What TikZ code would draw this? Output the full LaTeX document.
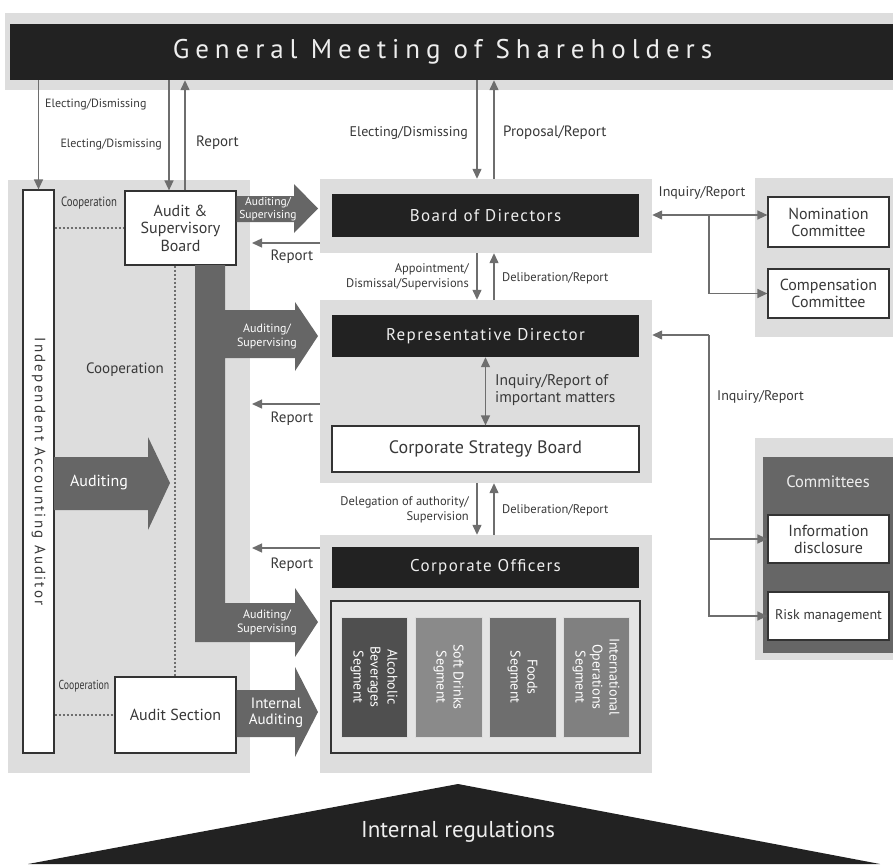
\documentclass[tikz,border=0pt]{standalone}
\usepackage{fontspec}
\usepackage{graphicx}
\setmainfont{PT Sans}
\newfontfamily\titlefont[LetterSpace=22]{PT Sans}
\newfontfamily\vertfont[LetterSpace=15]{PT Sans}
\newfontfamily\boxfont[LetterSpace=8]{PT Sans}
\usetikzlibrary{arrows.meta}
\definecolor{boxblack}{HTML}{222222}
\definecolor{panelgrey}{HTML}{DDDDDD}
\definecolor{arrowgrey}{HTML}{666666}
\definecolor{linegrey}{HTML}{6E6E6E}
\definecolor{textdark}{HTML}{383838}
\definecolor{boxline}{HTML}{333333}
\definecolor{segA}{HTML}{4F4F4F}
\definecolor{segB}{HTML}{8A8A8A}
\definecolor{segC}{HTML}{6E6E6E}
\definecolor{segD}{HTML}{808080}
\definecolor{innerfill}{HTML}{E4E4E4}
\definecolor{titlewhite}{HTML}{EEEEEE}
\begin{document}
\begin{tikzpicture}[x=1pt,y=-1pt,
  panel/.style={fill=panelgrey, draw=none, inner sep=0pt},
  blackbox/.style={fill=boxblack, text=titlewhite, inner sep=0pt, font=\boxfont\fontsize{17}{20}\selectfont},
  whitebox/.style={fill=white, draw=boxline, line width=1.2pt, align=center, inner sep=0pt, text=textdark},
  seg/.style={draw=panelgrey, line width=0.8pt, inner sep=0pt, minimum height=120pt},
  segtext/.style={rotate=-90, text=white, align=center, inner sep=0pt, font=\fontsize{14}{17}\selectfont},
  arr/.style={draw=linegrey, line width=1.3pt, -{Triangle[length=10pt,width=9pt]}},
  darr/.style={draw=linegrey, line width=1.3pt, {Triangle[length=10pt,width=9pt]}-{Triangle[length=10pt,width=9pt]}},
  lbl/.style={text=textdark, inner sep=0pt, font=\fontsize{15}{17}\selectfont},
  slbl/.style={text=textdark, inner sep=0pt, font=\fontsize{12.5}{15.5}\selectfont},
  wlbl/.style={text=white, inner sep=0pt, align=center, font=\fontsize{12}{14}\selectfont},
  coop/.style={draw=linegrey, line width=1.6pt, dash pattern=on 2.5pt off 1.5pt},
  blockarrow/.style={fill=arrowgrey, draw=none}
]
\useasboundingbox (0,0) rectangle (893,864);

% ---------- panels ----------
\node[panel, minimum width=888pt, minimum height=77pt] (gmsg) at (449,51.5) {};
\node[blackbox, minimum width=883pt, minimum height=56pt, font=\titlefont\fontsize{27}{30}\selectfont] (gms) at (451.5,52) {\hspace*{-18pt}General Meeting of Shareholders};

\node[panel, minimum width=242pt, minimum height=593pt] (lp) at (129,476.5) {};
\node[panel, minimum width=332pt, minimum height=74pt] (bodg) at (486,216) {};
\node[panel, minimum width=332pt, minimum height=183pt] (rdg) at (486,391.5) {};
\node[panel, minimum width=332pt, minimum height=238pt] (cog) at (486,654) {};
\node[panel, minimum width=138pt, minimum height=159pt] (ncg) at (824,257.5) {};
\node[panel, minimum width=138pt, minimum height=222pt] (cmg) at (824,549) {};
\node[fill=arrowgrey, inner sep=0pt, minimum width=130pt, minimum height=196pt] (cmd) at (828,555) {};

% ---------- boxes ----------
\node[whitebox, minimum width=31pt, minimum height=563pt] (iaa) at (38.5,471.5) {};
\node[rotate=-90, text=textdark, inner sep=0pt, font=\vertfont\fontsize{15}{17}\selectfont] (iaat) at (iaa.center) {Independent Accounting Auditor};
\node[whitebox, minimum width=111pt, minimum height=74pt, font=\fontsize{16}{17.5}\selectfont] (asb) at (180.5,228) {Audit \&\\Supervisory\\Board};
\node[whitebox, minimum width=121pt, minimum height=76pt, font=\fontsize{16}{18}\selectfont] (as) at (175.5,715) {Audit Section};

\node[blackbox, minimum width=307pt, minimum height=43pt] (bod) at (485.5,215.5) {Board of Directors};
\node[blackbox, minimum width=307pt, minimum height=42pt] (rd) at (485.5,336) {Representative Director};
\node[whitebox, minimum width=307pt, minimum height=46pt, font=\fontsize{18}{21}\selectfont] (csb) at (485.5,449) {Corporate Strategy Board};
\node[blackbox, minimum width=307pt, minimum height=41pt] (co) at (485.5,567.5) {Corporate Officers};
\node[fill=innerfill, draw=boxline, line width=1.2pt, inner sep=0pt, minimum width=309pt, minimum height=152pt] (coin) at (485.5,677) {};
\node[seg, fill=segA, minimum width=66pt] (s1) at (374,677) {};
\node[seg, fill=segB, minimum width=67pt] (s2) at (448.5,677) {};
\node[seg, fill=segC, minimum width=67pt] (s3) at (522.5,677) {};
\node[seg, fill=segD, minimum width=66pt] (s4) at (596,677) {};
\node[segtext] at (s1.center) {Alcoholic\\Beverages\\Segment};
\node[segtext] at (s2.center) {Soft Drinks\\Segment};
\node[segtext] at (s3.center) {Foods\\Segment};
\node[segtext] at (s4.center) {International\\Operations\\Segment};

\node[whitebox, minimum width=121pt, minimum height=50pt, font=\fontsize{16}{17}\selectfont] (nom) at (828.5,222) {Nomination\\Committee};
\node[whitebox, minimum width=121pt, minimum height=49pt, font=\fontsize{16}{17}\selectfont] (comp) at (828.5,293.5) {Compensation\\Committee};
\node[text=titlewhite, inner sep=0pt, font=\fontsize{16.5}{19}\selectfont] (cmt) at (828,482) {Committees};
\node[whitebox, minimum width=121pt, minimum height=48pt, font=\fontsize{16}{17}\selectfont] (info) at (828.5,539) {Information\\disclosure};
\node[whitebox, minimum width=121pt, minimum height=48pt, font=\fontsize{14}{16}\selectfont] (risk) at (828.5,616) {Risk management};

% ---------- block arrows ----------
\fill[blockarrow] (asb.east |- 0,196) -- (294,196) -- (294,184) -- (318,208.5) -- (294,233) -- (294,222) -- (asb.east |- 0,222) -- cycle;
\node[wlbl, font=\fontsize{11.5}{13}\selectfont] at (268,209) {Auditing/\\Supervising};
\fill[blockarrow] (195,265) -- (225,265) -- (225,310) -- (295,310) -- (295,302) -- (318,336) -- (295,371) -- (295,358)
  -- (225,358) -- (225,603) -- (295,603) -- (295,588) -- (318,622) -- (295,657) -- (295,642) -- (195,642) -- cycle;
\node[wlbl] at (267,336) {Auditing/\\Supervising};
\node[wlbl] at (267,622) {Auditing/\\Supervising};
\fill[blockarrow] (54,457) -- (148,457) -- (148,437) -- (170,483) -- (148,530) -- (148,510) -- (54,510) -- cycle;
\node[wlbl, font=\fontsize{16}{18}\selectfont] at (99,483) {Auditing};
\fill[blockarrow] (as.east |- 0,690) -- (295,690) -- (295,667) -- (318,712) -- (295,757) -- (295,737) -- (as.east |- 0,737) -- cycle;
\node[wlbl, font=\fontsize{15}{16}\selectfont] at (276,713) {Internal\\Auditing};

% ---------- cooperation lines ----------
\coordinate (x175) at (175,0);
\draw[coop] (iaa.east |- asb.west) -- (asb.west);
\draw[coop] (iaa.east |- as.west) -- (as.west);
\draw[coop] (asb.south -| x175) -- (as.north -| x175);
\node[slbl] at (89,203) {\fontsize{13.5}{15}\selectfont\scalebox{0.8}[1]{Cooperation}};
\node[lbl] at (125,370) {Cooperation};
\node[slbl] at (84,686) {\fontsize{13}{15}\selectfont\scalebox{0.75}[1]{Cooperation}};

% ---------- thin arrows ----------
\coordinate (xa) at (169,0);
\coordinate (xb) at (185,0);
\coordinate (xc) at (477,0);
\coordinate (xd) at (494,0);
\draw[arr] (gms.south -| iaa.north) -- (iaa.north);
\draw[arr] (gms.south -| xa) -- (asb.north -| xa);
\draw[arr] (asb.north -| xb) -- (gms.south -| xb);
\draw[arr] (gms.south -| xc) -- (bodg.north -| xc);
\draw[arr] (bodg.north -| xd) -- (gms.south -| xd);
\draw[arr] (bodg.south -| xc) -- (rdg.north -| xc);
\draw[arr] (rdg.north -| xd) -- (bodg.south -| xd);
\draw[darr] (rd.south) -- (csb.north);
\draw[arr] (rdg.south -| xc) -- (cog.north -| xc);
\draw[arr] (cog.north -| xd) -- (rdg.south -| xd);

\coordinate (rt1) at (252,243);
\coordinate (rt2) at (252,404);
\coordinate (rt3) at (252,548);
\draw[arr] (bodg.west |- rt1) -- (rt1);
\draw[arr] (rdg.west |- rt2) -- (rt2);
\draw[arr] (cog.west |- rt3) -- (rt3);

\coordinate (j1) at (709,215);
\coordinate (j2) at (709,335);
\draw[darr] (bodg.east |- j1) -- (nom.west |- j1);
\draw[arr] (j1) |- (comp.west);
\draw[arr] (j2) -- (rdg.east |- j2);
\draw[arr] (j2) |- (info.west);
\draw[arr] (j2) |- (risk.west);

% ---------- labels ----------
\node[slbl, anchor=west, font=\fontsize{12}{14}\selectfont] at (45,104) {Electing/Dismissing};
\node[slbl, anchor=east, font=\fontsize{12}{14}\selectfont] at (162,144) {Electing/Dismissing};
\node[lbl, anchor=west] at (196,143) {Report};
\node[lbl, anchor=east, font=\fontsize{14}{16}\selectfont] at (468,133) {Electing/Dismissing};
\node[lbl, anchor=west] at (503,133) {Proposal/Report};
\node[lbl] at (292,257) {Report};
\node[slbl, anchor=east, align=right] at (469,277) {Appointment/\\Dismissal/Supervisions};
\node[slbl, anchor=west] at (502,278) {Deliberation/Report};
\node[lbl] at (292,419) {Report};
\node[lbl, anchor=west, align=left, font=\fontsize{15.5}{17}\selectfont] at (495,390) {Inquiry/Report of\\important matters};
\node[slbl, anchor=east, align=right] at (469,510) {Delegation of authority/\\Supervision};
\node[slbl, anchor=west] at (502,510) {Deliberation/Report};
\node[lbl] at (292,565) {Report};
\node[slbl, font=\fontsize{14}{16}\selectfont] at (702,193) {Inquiry/Report};
\node[slbl, anchor=west, font=\fontsize{14}{16}\selectfont] at (717,397) {Inquiry/Report};

% ---------- internal regulations ----------
\fill[boxblack] (28,864) -- (458,784) -- (880,864) -- cycle;
\node[text=titlewhite, inner sep=0pt, font=\fontsize{23}{26}\selectfont] (ir) at (458,832) {Internal regulations};
\end{tikzpicture}
\end{document}
